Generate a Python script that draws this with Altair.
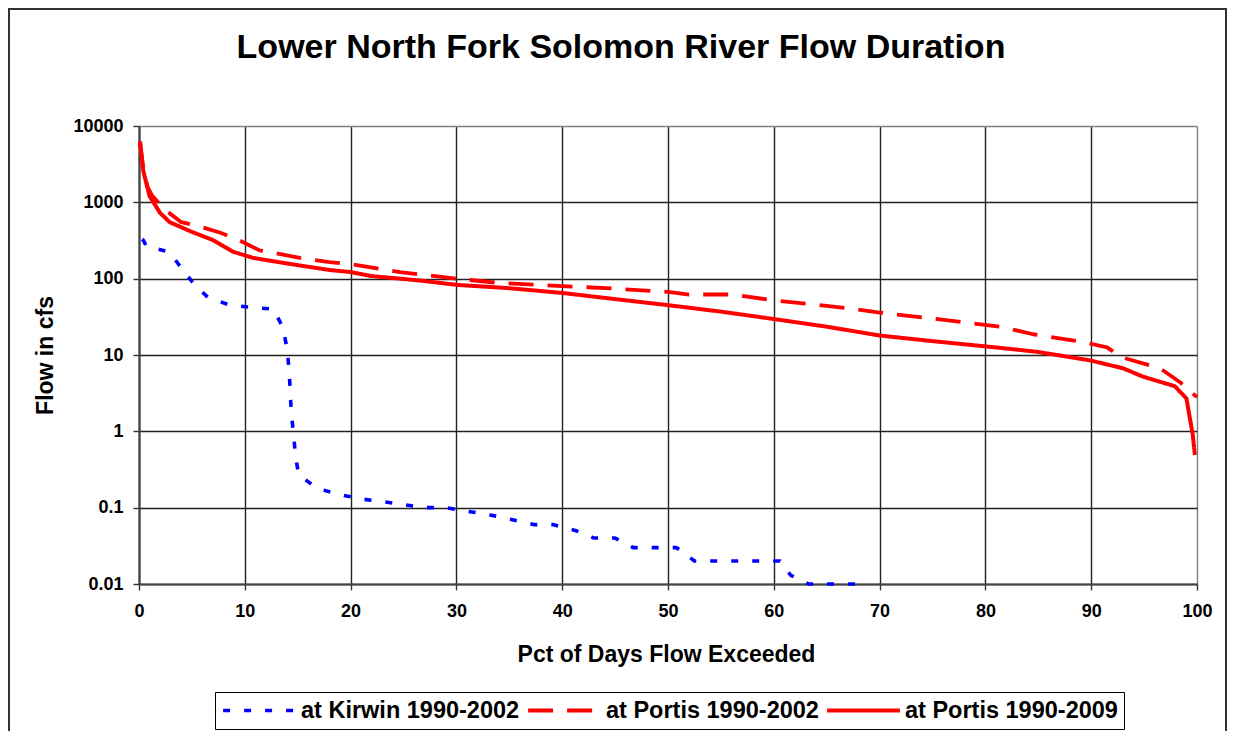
import altair as alt
import pandas as pd

FONT = "Liberation Sans"

series_names = ["at Kirwin 1990-2002", "at Portis 1990-2002", "at Portis 1990-2009"]

kirwin_pct = [0.3, 0.4, 0.7, 2.5, 3.0, 3.9, 5.1, 6.5, 8.6, 10.7, 12.7, 13.6, 14.0, 14.2, 14.4,
              14.6, 14.8, 15.1, 16.8, 18.8, 21.0, 23.0, 24.9, 27.1, 29.0, 31.0, 33.2, 35.2,
              37.3, 39.1, 41.3, 43.0, 45.0, 46.7, 48.8, 50.8, 52.5, 55.0, 58.0, 60.6, 61.6,
              63.3, 65.5, 67.7]
kirwin_cfs = [330, 320, 265, 230, 210, 145, 88, 57, 45, 42, 40, 23, 12, 6, 1.7,
              0.95, 0.46, 0.27, 0.18, 0.15, 0.13, 0.12, 0.11, 0.1, 0.1, 0.09, 0.08, 0.07,
              0.06, 0.06, 0.05, 0.04, 0.04, 0.03, 0.03, 0.03, 0.02, 0.02, 0.02, 0.02, 0.013,
              0.01, 0.01, 0.01]

portis02_pct = [0.1, 0.4, 0.8, 1.2, 2.3, 4.0, 5.6, 7.7, 9.5, 11.4, 13.0, 15.2, 18.0, 20.0,
                24.65, 30.0, 34.0, 40.0, 45.0, 50.0, 52.0, 56.0, 60.0, 67.0, 70.0, 75.0,
                81.4, 84.5, 89.3, 91.5, 92.9, 96.5, 98.4, 100.0]
portis02_cfs = [6000, 2800, 1600, 1250, 830, 550, 490, 400, 316, 235, 215, 187, 165, 155,
                122, 100, 88, 80, 74, 67, 62, 62, 52, 41, 36, 30,
                23.5, 18.7, 14.7, 12.6, 9.3, 6.7, 4.4, 2.8]

portis09_pct = [0.1, 0.4, 0.85, 1.0, 2.0, 2.9, 5.0, 7.0, 8.9, 10.8, 14.0, 18.0, 20.0, 22.0,
                24.7, 27.0, 30.0, 35.0, 40.0, 45.0, 50.0, 55.0, 60.0, 65.0, 70.0, 75.0,
                81.4, 84.9, 89.9, 93.0, 94.9, 97.9, 99.0, 99.6, 99.8]
portis09_cfs = [6300, 2600, 1450, 1200, 725, 550, 410, 320, 225, 187, 158, 130, 122, 108,
                100, 93, 83, 75, 65, 54, 45, 37, 29.6, 23.5, 18, 15.2,
                12.4, 11, 8.5, 6.7, 5.2, 3.9, 2.7, 0.9, 0.49]

x_ticks = list(range(0, 101, 10))
y_ticks = [0.01, 0.1, 1, 10, 100, 1000, 10000]

rows = []
for name, pcts, vals in [(series_names[0], kirwin_pct, kirwin_cfs),
                         (series_names[1], portis02_pct, portis02_cfs),
                         (series_names[2], portis09_pct, portis09_cfs)]:
    for p, v in zip(pcts, vals):
        rows.append({"series": name, "pct": p, "cfs": v})
df = pd.DataFrame(rows)

W, H = 1058, 458
PAD_L, PAD_T, PAD_R, PAD_B = 131, 118, 30, 147

grid_cond_x = alt.condition("datum.value == 100", alt.value("#808080"), alt.value("#222222"))
grid_cond_y = alt.condition("datum.value == 10000", alt.value("#808080"), alt.value("#222222"))

legend_kw = dict(title=None, orient="none", legendX=76, legendY=566,
                 direction="horizontal", strokeColor="#000000", fillColor="#FFFFFF",
                 padding=6, symbolType="stroke", symbolSize=5300, symbolStrokeWidth=4,
                 clipHeight=25, labelFont=FONT, labelFontSize=23.5, labelFontWeight="bold",
                 labelColor="#000000", labelOffset=3, columnPadding=6, labelLimit=400)

lines = alt.Chart(df).mark_line(strokeCap="butt", strokeJoin="round").encode(
    x=alt.X("pct:Q", scale=alt.Scale(domain=[0, 100], nice=False, zero=False),
            axis=alt.Axis(values=x_ticks, grid=True, gridColor=grid_cond_x, gridWidth=1.4,
                          tickSize=6, tickWidth=1.4, tickColor="#333333",
                          domainColor="#444444", domainWidth=2.2,
                          labelFont=FONT, labelFontSize=18, labelFontWeight="bold",
                          labelColor="#000000", labelPadding=12, labelFlush=False,
                          title="Pct of Days Flow Exceeded", titleFont=FONT,
                          titleFontSize=23, titleFontWeight="bold", titleColor="#000000",
                          titleX=527, titleY=77, titleAlign="center",
                          titleBaseline="alphabetic")),
    y=alt.Y("cfs:Q", scale=alt.Scale(type="log", domain=[0.01, 10000], nice=False),
            axis=alt.Axis(values=y_ticks, format="~g", grid=True, gridColor=grid_cond_y,
                          gridWidth=1.4, tickSize=6, tickWidth=1.4, tickColor="#333333",
                          domainColor="#444444", domainWidth=2.2,
                          labelFont=FONT, labelFontSize=18, labelFontWeight="bold",
                          labelColor="#000000", labelPadding=10,
                          title="Flow in cfs", titleFont=FONT, titleFontSize=23,
                          titleFontWeight="bold", titleColor="#000000",
                          titleX=-94, titleY=229, titleAngle=270, titleAlign="center",
                          titleBaseline="middle")),
    color=alt.Color("series:N",
                    scale=alt.Scale(domain=series_names,
                                    range=["#0000FF", "#FF0000", "#FF0000"]),
                    legend=alt.Legend(**legend_kw)),
    strokeDash=alt.StrokeDash("series:N",
                              scale=alt.Scale(domain=series_names,
                                              range=[[7, 14], [25, 14], [1, 0]]),
                              legend=alt.Legend(**legend_kw)),
    strokeWidth=alt.StrokeWidth("series:N",
                                scale=alt.Scale(domain=series_names, range=[3.6, 4, 4]),
                                legend=None),
)

frame = alt.Chart(pd.DataFrame({"f": [0]})).mark_rect(
    fillOpacity=0, stroke="#333333", strokeWidth=2
).encode(
    x=alt.value(-130), x2=alt.value(1087), y=alt.value(-117), y2=alt.value(640)
)

chart = alt.layer(frame, lines).properties(
    width=W, height=H,
    title=alt.TitleParams("Lower North Fork Solomon River Flow Duration", font=FONT,
                          fontSize=34, fontWeight="bold", color="#000000",
                          anchor="middle", dx=-47, offset=-84, baseline="alphabetic"),
    autosize=alt.AutoSizeParams(type="none"),
    padding={"left": PAD_L, "top": PAD_T, "right": PAD_R, "bottom": PAD_B},
).configure_view(
    stroke="#808080", strokeWidth=2
).configure(background="#FFFFFF")

chart.save("out.html", embed_options={"renderer": "svg", "actions": False})
